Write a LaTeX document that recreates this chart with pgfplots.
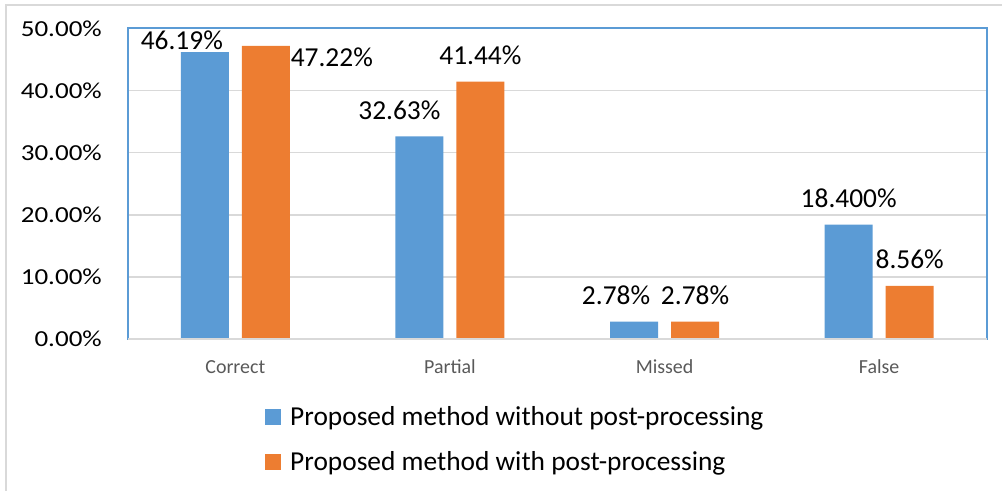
\documentclass[border=0pt]{standalone}
\usepackage{pgfplots}
\pgfplotsset{compat=1.18}
\usepackage{pgfplotstable}
\usepackage{fontspec}
\setmainfont{Carlito}

\definecolor{barblue}{HTML}{5B9BD5}
\definecolor{barorange}{HTML}{ED7D31}
\definecolor{gridgray}{HTML}{D9D9D9}
\definecolor{catgray}{HTML}{595959}

% x = category index, y = value in percent, dx/dy = label offsets (bp), lab = printed label
\pgfplotstableread{
x y dx dy lab
0 46.19 -23 3 46.19
1 32.63 -20 17 32.63
2 2.78 -18 17 2.78
3 18.40 0 17 18.400
}\withoutpost
\pgfplotstableread{
x y dx dy lab
0 47.22 66 -21 47.22
1 41.44 0 17 41.44
2 2.78 0 17 2.78
3 8.56 0 17 8.56
}\withpost

\begin{document}
\begin{tikzpicture}
\path[use as bounding box] (0,0) rectangle (1002bp,491bp);
\draw[gridgray, line width=1.2bp] (6bp,0) -- (6bp,486bp) -- (1002bp,486bp);
\begin{axis}[
  at={(128bp,152bp)}, anchor=south west,
  scale only axis, width=858.5bp, height=310.5bp,
  ybar=13bp, bar width=48bp,
  enlargelimits=false, clip=false,
  xmin=-0.5, xmax=3.5, ymin=0, ymax=50,
  xtick={0,1,2,3}, xticklabels={Correct,Partial,Missed,False},
  ytick={0,10,...,50},
  /pgf/number format/assume math mode=true,
  yticklabel={\scalebox{1.18}[1]{\pgfmathprintnumber[fixed,fixed zerofill,precision=2]{\tick}\%}},
  major tick length=0pt,
  ymajorgrids, grid style={gridgray, line width=1.5bp},
  axis line style={barblue, line width=2bp},
  yticklabel style={anchor=east, inner sep=0pt, xshift=-26bp, font=\fontsize{23}{28}\selectfont},
  xticklabel style={anchor=base, inner sep=0pt, yshift=-34bp, font=\fontsize{20}{24}\selectfont, text=catgray},
  point meta=explicit symbolic,
  nodes near coords={\pgfplotspointmeta\%},
  visualization depends on={\thisrow{dx} \as \labdx},
  visualization depends on={\thisrow{dy} \as \labdy},
  nodes near coords style={anchor=base, inner sep=0pt, xshift=\labdx bp, yshift=\labdy bp,
    font=\fontsize{27.5}{32}\selectfont, text=black},
  legend style={draw=none, fill=none, font=\fontsize{27.5}{32}\selectfont,
    at={(axis description cs:0.1596,-0.210)}, anchor=north west,
    row sep=21bp, column sep=7bp, inner sep=0pt},
  legend cell align=left,
  legend image code/.code={\fill[#1] (0bp,-8bp) rectangle (16bp,8bp);},
]
\addplot[fill=barblue, draw=none] table[x=x, y=y, meta=lab] {\withoutpost};
\addplot[fill=barorange, draw=none] table[x=x, y=y, meta=lab] {\withpost};
\draw[gridgray, line width=2bp] (rel axis cs:0,0) -- (rel axis cs:1,0);
\legend{Proposed method without post-processing, Proposed method with post-processing}
\end{axis}
\end{tikzpicture}
\end{document}
